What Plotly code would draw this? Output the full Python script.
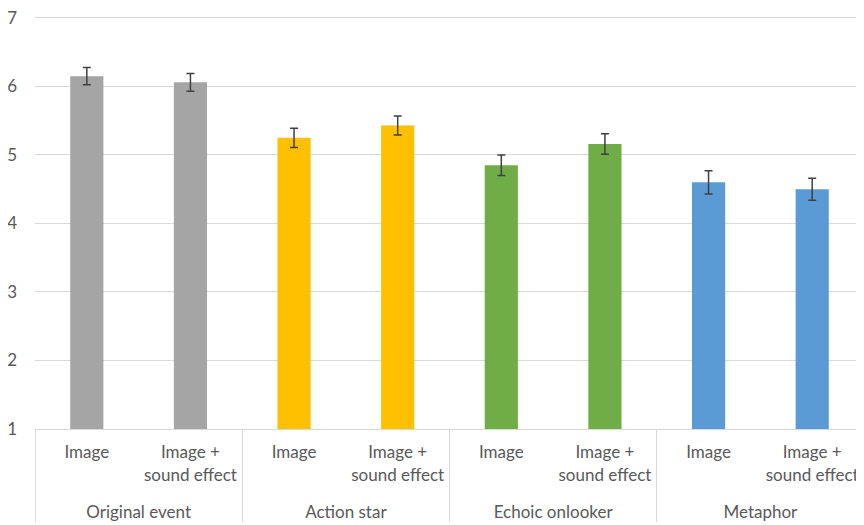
import plotly.graph_objects as go

groups = ["Original event", "Original event", "Action star", "Action star",
          "Echoic onlooker", "Echoic onlooker", "Metaphor", "Metaphor"]
conditions = ["Image", "Image +<br>sound effect"] * 4
values = [6.15, 6.06, 5.25, 5.43, 4.85, 5.16, 4.60, 4.50]
errors = [0.125, 0.13, 0.14, 0.14, 0.15, 0.15, 0.17, 0.16]
colors = ["#A5A5A5", "#A5A5A5", "#FFC000", "#FFC000",
          "#70AD47", "#70AD47", "#5B9BD5", "#5B9BD5"]
y_ticks = [1, 2, 3, 4, 5, 6, 7]

group_labels = ["<br>" + g for g in groups]

fig = go.Figure(go.Bar(
    x=[group_labels, conditions],
    y=[v - 1 for v in values],
    base=1,
    marker=dict(color=colors, line=dict(width=0)),
    error_y=dict(type="data", array=errors, color="#404040", thickness=1.5, width=4),
))

# the page body adds an 8px offset, so margins are compensated
fig.update_layout(
    width=864, height=525,
    margin=dict(l=27, r=8, t=6, b=104),
    paper_bgcolor="white", plot_bgcolor="white",
    bargap=0.68,
    showlegend=False,
    font=dict(family="Lato", size=17, color="#595959"),
)
fig.update_yaxes(range=[1, 7.057], tickvals=y_ticks, showgrid=True, gridcolor="#D9D9D9",
                 gridwidth=1, zeroline=False, showline=False, ticks="",
                 automargin=False, ticklabelstandoff=17, ticklabeloverflow="allow",
                 tickfont=dict(size=17, color="#595959"))
fig.update_xaxes(type="multicategory", showline=True, linecolor="#D9D9D9", linewidth=1,
                 ticks="", showdividers=True, dividercolor="#D9D9D9", dividerwidth=1,
                 automargin=False, ticklabelstandoff=8,
                 tickfont=dict(size=17, color="#595959"))

fig.write_html("out.html")
